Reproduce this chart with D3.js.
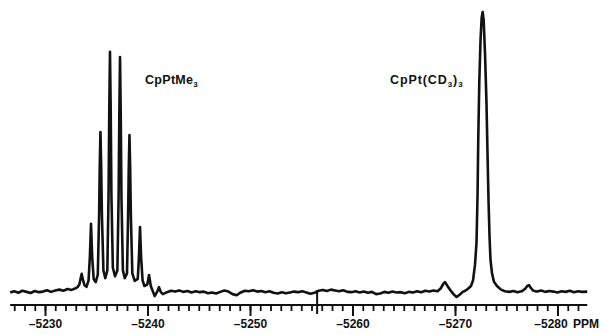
<!DOCTYPE html>
<html>
<head>
<meta charset="utf-8">
<script src="https://cdn.jsdelivr.net/npm/d3@7"></script>
<style>
  body { margin: 0; background: #fff; }
  svg { display: block; }
  text { font-family: "Liberation Sans", Arial, sans-serif; font-weight: bold; fill: #111; }
</style>
</head>
<body>
<div id="chart"></div>
<script>
// chemical shift (ppm) and intensity
var shiftPPM = [
	-5226.6, -5227.0, -5227.4, -5227.8, -5228.2, -5228.6, -5229.0, -5229.4, -5229.8, -5230.2,
	-5230.6, -5231.0, -5231.4, -5231.8, -5232.2, -5232.6, -5233.0, -5233.2,
	-5233.35, -5233.48, -5233.58, -5233.68, -5233.85, -5234.05,
	-5234.25, -5234.38, -5234.49, -5234.60, -5234.75, -5234.95,
	-5235.15, -5235.28, -5235.34, -5235.41, -5235.48, -5235.55, -5235.70, -5235.88,
	-5236.08, -5236.20, -5236.27, -5236.34, -5236.41, -5236.48, -5236.62, -5236.83,
	-5237.06, -5237.18, -5237.25, -5237.32, -5237.39, -5237.46, -5237.60, -5237.78,
	-5238.00, -5238.11, -5238.17, -5238.24, -5238.31, -5238.38, -5238.52, -5238.75,
	-5239.05, -5239.16, -5239.27, -5239.38, -5239.52, -5239.70,
	-5239.98, -5240.15, -5240.32, -5240.48,
	-5240.70, -5240.95, -5241.12, -5241.30, -5241.50,
	-5241.9, -5242.3, -5242.7, -5243.1, -5243.5, -5243.9, -5244.3, -5244.7, -5245.1, -5245.5,
	-5245.9, -5246.3, -5246.7, -5247.1, -5247.5, -5247.9, -5248.3, -5248.7, -5249.1, -5249.5,
	-5249.9, -5250.3, -5250.7, -5251.1, -5251.5, -5251.9, -5252.3, -5252.7, -5253.1, -5253.5,
	-5253.9, -5254.3, -5254.7, -5255.1, -5255.5, -5255.9, -5256.3, -5256.7, -5257.1, -5257.5,
	-5257.9, -5258.3, -5258.7, -5259.1, -5259.5, -5259.9, -5260.3, -5260.7, -5261.1, -5261.5,
	-5261.9, -5262.3, -5262.7, -5263.1, -5263.5, -5263.9, -5264.3, -5264.7, -5265.1, -5265.5,
	-5265.9, -5266.3, -5266.7, -5267.1, -5267.5, -5267.9, -5268.3, -5268.6, -5268.85, -5269.02,
	-5269.25, -5269.55, -5269.85, -5270.15, -5270.45, -5270.75, -5271.0,
	-5271.27, -5271.56, -5271.76, -5271.95, -5272.10, -5272.20, -5272.27, -5272.37, -5272.49, -5272.60,
	-5272.70, -5272.80, -5272.93, -5273.07, -5273.17, -5273.27, -5273.37, -5273.46, -5273.61, -5273.80,
	-5274.10, -5274.49, -5274.88,
	-5275.3, -5275.7, -5276.1, -5276.5, -5276.85, -5277.05, -5277.22, -5277.4, -5277.65, -5278.0,
	-5278.4, -5278.8, -5279.2, -5279.6, -5280.0, -5280.4, -5280.8, -5281.2, -5281.6, -5282.0,
	-5282.4, -5282.9
];
var intensity = [
	0.2, 0.6, 0.1, 0.8, 0.4, 0.0, 0.7, 0.3, 0.5, 1.0,
	0.4, 0.9, 1.2, 0.8, 1.4, 1.1, 1.7, 2.2,
	3.0, 5.2, 6.8, 5.0, 2.8, 2.2,
	4.5, 13, 24.6, 13, 5.0, 3.9,
	6.5, 28, 45, 57.3, 45, 28, 8.0, 5.3,
	8.0, 35, 65, 85.8, 65, 35, 9.0, 6.0,
	8.0, 34, 63, 84.0, 63, 34, 8.0, 5.3,
	7.0, 28, 44, 56.2, 44, 27, 7.0, 4.3,
	5.0, 12.5, 23.5, 12.5, 4.5, 2.5,
	3.0, 6.4, 2.5, 1.0,
	-1.1, 0.5, 2.1, 0.3, -0.4,
	0.3, 0.8, 0.5, 0.9, 0.4, 0.7, 0.2, 0.6, 0.3, 0.5,
	-0.1, 0.2, -0.2, 0.4, 0.9, 0.5, -0.4, -0.8, 0.2, 0.8,
	0.6, 1.0, 0.5, 0.7, 0.3, 0.6, 0.1, -0.2, 0.3, -0.1,
	0.2, 0.5, 0.3, 0.6, 0.2, -0.3, 0.1, 0.8, 1.1, 0.7,
	1.2, 0.9, 0.6, 1.0, 0.4, 0.3, 0.6, 0.2, 0.5, 0.1,
	0.4, -0.4, -0.2, 0.4, 0.1, 0.5, 0.2, 0.3, -0.1, 0.4,
	0.2, 0.6, 0.3, 0.8, 0.5, 0.9, 0.6, 1.6, 3.2, 3.9,
	2.6, 1.0, -0.4, -1.4, -0.6, 0.4, 0.8,
	1.5, 2.5, 4.5, 10, 18, 35, 55, 75, 90, 98,
	100, 97, 85, 68, 50, 33, 20, 12, 7, 4.0,
	2.5, 1.2, 0.6,
	0.4, 0.7, 0.3, 0.6, 1.5, 2.5, 2.8, 1.8, 0.8, 0.5,
	0.9, 0.4, 0.7, 0.5, 0.2, 0.6, 0.4, 0.8, 0.3, 0.6,
	0.4, 0.5
];

var majorTicks = [-5230, -5240, -5250, -5260, -5270, -5280];
var minorTicks = d3.range(-5227, -5283, -1);
var markerPPM = [-5256.55];
var axisUnit = "PPM";

var width = 603, height = 335;
var axisY = 305;

var svg = d3.select("#chart")
	.append("svg")
	.attr("width", width)
	.attr("height", height);

// ppm runs right-to-left toward more negative values
var x = d3.scaleLinear().domain([-5230, -5280]).range([45, 557.5]);
var y = d3.scaleLinear().domain([0, 100]).range([293, 12]);

var points = shiftPPM.map(function(d, i) { return [d, intensity[i]]; });

//spectrum trace
svg.append("path")
	.datum(points)
	.attr("fill", "none")
	.attr("stroke", "#111")
	.attr("stroke-width", 2.6)
	.attr("stroke-linejoin", "round")
	.attr("d", d3.line()
		.x(function(d) { return x(d[0]); })
		.y(function(d) { return y(d[1]); }));

//axis line
svg.append("line")
	.attr("x1", x(-5226.6)).attr("x2", x(-5282.9))
	.attr("y1", axisY).attr("y2", axisY)
	.attr("stroke", "#111").attr("stroke-width", 2);

//minor ticks
var minorAxis = svg.append("g")
	.attr("transform", "translate(0," + axisY + ")")
	.call(d3.axisBottom(x).tickValues(minorTicks).tickSize(6).tickFormat(""));
minorAxis.select(".domain").remove();
minorAxis.selectAll("line").attr("stroke", "#111").attr("stroke-width", 1.8);

//major ticks and labels
var majorAxis = svg.append("g")
	.attr("transform", "translate(0," + axisY + ")")
	.call(d3.axisBottom(x).tickValues(majorTicks).tickSize(11).tickPadding(3)
		.tickFormat(function(d) { return "\u2013" + Math.abs(d); }));
majorAxis.select(".domain").remove();
majorAxis.selectAll("line").attr("stroke", "#111").attr("stroke-width", 2);
majorAxis.selectAll("text")
	.attr("font-size", 12)
	.attr("font-family", null)
	.attr("fill", "#111")
	.attr("dx", function(d) { return d === -5280 ? -7 : 0; });

svg.append("text")
	.attr("x", 573)
	.attr("y", 327.5)
	.attr("font-size", 12)
	.text(axisUnit);

//odd spike crossing the axis
svg.selectAll(".marker")
	.data(markerPPM)
	.enter()
	.append("line")
	.attr("x1", function(d) { return x(d); })
	.attr("x2", function(d) { return x(d); })
	.attr("y1", y(1))
	.attr("y2", axisY + 9)
	.attr("stroke", "#111")
	.attr("stroke-width", 2);

//compound labels
function compoundLabel(px, parts, spacing) {
	var t = svg.append("text")
		.attr("x", px)
		.attr("y", 84)
		.attr("font-size", 12.5)
		.attr("letter-spacing", spacing);
	parts.forEach(function(p) {
		if (p.sub) {
			t.append("tspan").attr("font-size", 8).attr("dy", 3).text(p.text);
		} else {
			t.append("tspan").attr("dy", p.up ? -3 : 0).text(p.text);
		}
	});
}
compoundLabel(145, [{ text: "CpPtMe" }, { text: "3", sub: true }], 0.3);
compoundLabel(390, [{ text: "CpPt(CD" }, { text: "3", sub: true }, { text: ")", up: true }, { text: "3", sub: true }], 0.9);
</script>
</body>
</html>
